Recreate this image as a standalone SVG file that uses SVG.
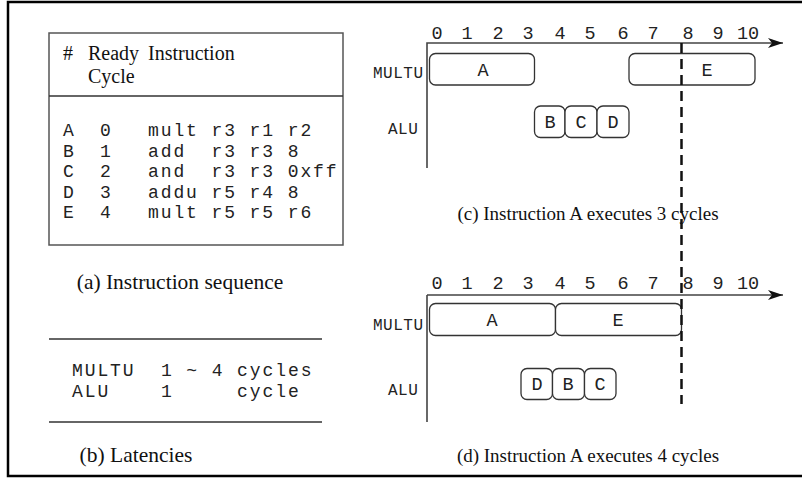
<svg xmlns="http://www.w3.org/2000/svg" width="802" height="478" viewBox="0 0 802 478">
  <style>
    .serif { font-family: "Liberation Serif", "Times New Roman", serif; font-size: 21.5px; fill: #111; }
    .head { font-family: "Liberation Serif", "Times New Roman", serif; font-size: 20px; fill: #111; }
    .caption { font-family: "Liberation Serif", "Times New Roman", serif; font-size: 19px; fill: #111; text-anchor: middle; }
    .mono { font-family: "Liberation Mono", "Courier New", monospace; font-size: 18px; letter-spacing: 1.9px; fill: #222; white-space: pre; }
    .tick { font-family: "Liberation Mono", "Courier New", monospace; font-size: 18.5px; fill: #222; text-anchor: middle; }
    .unit { font-family: "Liberation Mono", "Courier New", monospace; font-size: 16px; letter-spacing: 0.5px; fill: #222; }
    .slot { fill: #fff; stroke: #333; stroke-width: 1.3; }
    .slot-label { font-family: "Liberation Mono", "Courier New", monospace; font-size: 18.5px; fill: #222; text-anchor: middle; }
    .axis { stroke: #444; stroke-width: 1.6; fill: none; }
    .rule { stroke: #333; stroke-width: 1.5; }
    .cut { stroke: #111; stroke-width: 2.5; stroke-dasharray: 10 6; fill: none; }
  </style>
  <defs>
    <marker id="arrow" markerWidth="16" markerHeight="10" refX="15" refY="5" orient="auto" markerUnits="userSpaceOnUse">
      <path d="M15,5 L0,0 L4,5 L0,10 Z" fill="#111"/>
    </marker>
  </defs>

  <rect width="802" height="478" fill="#fff"/>
  <!-- outer frame (right edge runs past the canvas) -->
  <path d="M812,2 H8 V476 H812" fill="none" stroke="#000" stroke-width="2.5"/>

  <!-- (a) instruction sequence table -->
  <g id="instruction-table">
    <rect x="49" y="33" width="294" height="212" fill="none" stroke="#555" stroke-width="1.5"/>
    <line x1="49" y1="96" x2="343" y2="96" class="rule"/>
    <text class="head" x="63" y="60">#</text>
    <text class="head" x="88" y="60">Ready</text>
    <text class="head" x="148" y="60">Instruction</text>
    <text class="head" x="88" y="83">Cycle</text>
    <g class="mono">
      <text x="63" y="136">A</text><text x="100" y="136">0</text><text x="148" y="136" xml:space="preserve">mult r3 r1 r2</text>
      <text x="63" y="156.5">B</text><text x="100" y="156.5">1</text><text x="148" y="156.5" xml:space="preserve">add  r3 r3 8</text>
      <text x="63" y="177">C</text><text x="100" y="177">2</text><text x="148" y="177" xml:space="preserve">and  r3 r3 0xff</text>
      <text x="63" y="197.5">D</text><text x="100" y="197.5">3</text><text x="148" y="197.5" xml:space="preserve">addu r5 r4 8</text>
      <text x="63" y="218">E</text><text x="100" y="218">4</text><text x="148" y="218" xml:space="preserve">mult r5 r5 r6</text>
    </g>
    <text class="serif" x="180" y="289" text-anchor="middle">(a) Instruction sequence</text>
  </g>

  <!-- (b) latencies -->
  <g id="latencies">
    <line x1="49" y1="339" x2="322" y2="339" class="rule"/>
    <line x1="49" y1="422" x2="322" y2="422" class="rule"/>
    <text class="mono" x="72" y="376" xml:space="preserve">MULTU  1 ~ 4 cycles</text>
    <text class="mono" x="72" y="397" xml:space="preserve">ALU    1     cycle</text>
    <text class="serif" x="136" y="462" text-anchor="middle">(b) Latencies</text>
  </g>

  <!-- (c) schedule when A takes 3 cycles -->
  <g id="schedule-c">
    <g class="tick">
      <text x="437" y="39">0</text><text x="467" y="39">1</text><text x="498" y="39">2</text>
      <text x="528" y="39">3</text><text x="560" y="39">4</text><text x="590" y="39">5</text>
      <text x="623" y="39">6</text><text x="653" y="39">7</text><text x="688" y="39">8</text>
      <text x="718" y="39">9</text><text x="748" y="39">10</text>
    </g>
    <text class="unit" x="373" y="78">MULTU</text>
    <text class="unit" x="388" y="134">ALU</text>
    <g id="c-A"><rect class="slot" x="429.5" y="53.5" width="105" height="31.5" rx="6"/><text class="slot-label" x="483" y="76">A</text></g>
    <g id="c-E"><rect class="slot" x="629" y="53.5" width="126" height="31.5" rx="6"/><text class="slot-label" x="707" y="76">E</text></g>
    <g id="c-B"><rect class="slot" x="534.5" y="106" width="30.5" height="31.5" rx="6"/><text class="slot-label" x="550" y="128">B</text></g>
    <g id="c-C"><rect class="slot" x="565" y="106" width="32" height="31.5" rx="6"/><text class="slot-label" x="581" y="128">C</text></g>
    <g id="c-D"><rect class="slot" x="597" y="106" width="32" height="31.5" rx="6"/><text class="slot-label" x="613" y="128">D</text></g>
    <text class="caption" x="588" y="220">(c) Instruction A executes 3 cycles</text>
  </g>

  <!-- (d) schedule when A takes 4 cycles -->
  <g id="schedule-d">
    <g class="tick">
      <text x="437" y="289">0</text><text x="467" y="289">1</text><text x="498" y="289">2</text>
      <text x="528" y="289">3</text><text x="560" y="289">4</text><text x="590" y="289">5</text>
      <text x="623" y="289">6</text><text x="653" y="289">7</text><text x="688" y="289">8</text>
      <text x="718" y="289">9</text><text x="748" y="289">10</text>
    </g>
    <text class="unit" x="373" y="330">MULTU</text>
    <text class="unit" x="388" y="395">ALU</text>
    <g id="d-A"><rect class="slot" x="429.5" y="303.5" width="126" height="32" rx="6"/><text class="slot-label" x="492" y="326">A</text></g>
    <g id="d-E"><rect class="slot" x="555.5" y="303.5" width="126" height="32" rx="6"/><text class="slot-label" x="618" y="326">E</text></g>
    <g id="d-D"><rect class="slot" x="521" y="368.5" width="31.5" height="31" rx="6"/><text class="slot-label" x="537" y="390">D</text></g>
    <g id="d-B"><rect class="slot" x="552.5" y="368.5" width="32" height="31" rx="6"/><text class="slot-label" x="568" y="390">B</text></g>
    <g id="d-C"><rect class="slot" x="584.5" y="368.5" width="31.5" height="31" rx="6"/><text class="slot-label" x="600" y="390">C</text></g>
    <text class="caption" x="588" y="462">(d) Instruction A executes 4 cycles</text>
  </g>

  <!-- axes and the cycle-8 boundary -->
  <g id="connectors">
    <path class="axis" d="M427,168 V43 H783" marker-end="url(#arrow)"/>
    <path class="axis" d="M427,422 V295 M427,295 H783" marker-end="url(#arrow)"/>
    <line class="cut" x1="681.5" y1="43" x2="681.5" y2="404"/>
  </g>
</svg>
